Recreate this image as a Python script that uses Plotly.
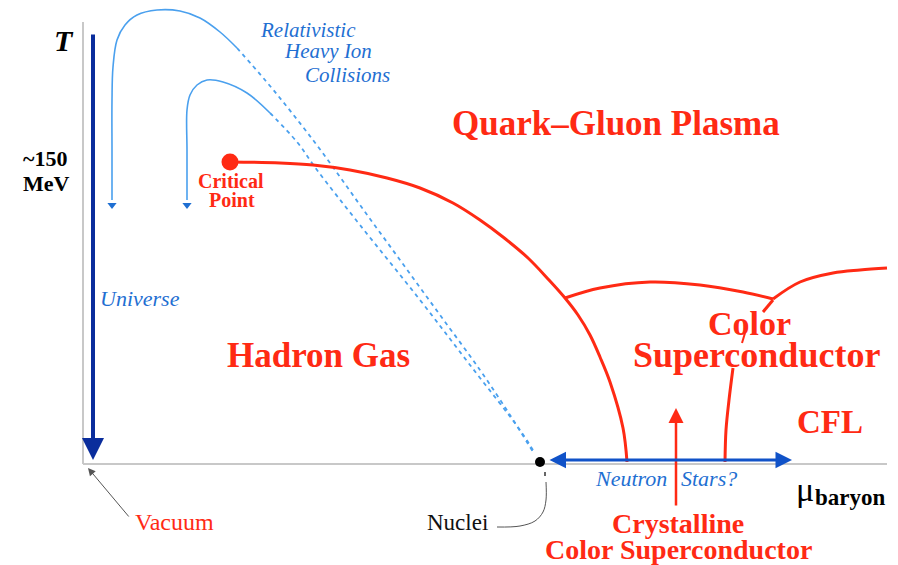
import plotly.graph_objects as go

# ---- data (arbitrary units: mu = baryon chemical potential, T = temperature) ----
axis_mu = [0, 804]
axis_T = [442, 0]

crit_mu = [147]
crit_T = [302]

# first-order transition line from the critical point
trans_mu = [147, 197, 230, 267, 304, 337, 370, 397, 420, 445, 466, 482, 495, 507, 517, 527, 540, 544]
trans_T = [302, 301, 299, 294, 286, 276, 261, 244, 227, 206, 184, 166, 149, 129, 107, 82, 36, 2]

# colour-superconductor boundaries
cs_arc_mu = [482, 517, 567, 617, 660, 690]
cs_arc_T = [166, 176, 182, 179, 172, 165]
cfl_arc_mu = [690, 717, 750, 777, 804]
cfl_arc_T = [165, 182, 191, 194, 196]
cfl_up_mu = [690, 680]
cfl_up_T = [164, 152]
cfl_mid_mu = [662, 659]
cfl_mid_T = [131, 121]
cfl_low_mu = [650, 646, 643, 642]
cfl_low_T = [96, 64, 34, 2]

# heavy-ion collision trajectories
hic1_mu = [29, 29, 29, 30, 34, 42, 54, 74, 97, 117, 137, 154]
hic1_T = [264, 314, 364, 397, 424, 439, 449, 454, 453, 446, 432, 416]
hic1_dash_mu = [154, 182, 209, 239, 277, 317, 357, 397, 427, 450]
hic1_dash_T = [416, 384, 351, 312, 259, 204, 149, 94, 49, 12]
hic2_mu = [104, 104, 104, 107, 114, 124, 140, 164, 187]
hic2_T = [264, 314, 354, 369, 379, 384, 382, 371, 351]
hic2_dash_mu = [187, 214, 234, 277, 337, 387, 437, 450]
hic2_dash_T = [351, 322, 294, 239, 164, 99, 34, 14]
hic_tip_mu = [29, 104]
hic_tip_T = [259, 259]

nuclei_mu = [457]
nuclei_T = [2]
nuc_tick_mu = [462, 462]
nuc_tick_T = [-8, -12]
nuc_curve_mu = [463, 463, 460, 452, 437, 414]
nuc_curve_T = [-18, -36, -48, -57, -62, -63]

RED = "#ff2a14"
LBLUE = "#4aa0ee"
TBLUE = "#1f6fd2"
DBLUE = "#0a2d9c"
MBLUE = "#1052c8"
SERIF = "Liberation Serif, Times New Roman, serif"

fig = go.Figure()

def line(x, y, color, width, dash=None):
    fig.add_trace(go.Scatter(x=x, y=y, mode="lines", line_shape="spline",
                             line=dict(color=color, width=width, dash=dash),
                             hoverinfo="skip"))

# axes
line([0, 0], axis_T, "#c8c8c8", 2)
line(axis_mu, [0, 0], "#c8c8c8", 2)

# trajectories
line(hic1_mu, hic1_T, LBLUE, 1.6)
line(hic2_mu, hic2_T, LBLUE, 1.6)
line(hic1_dash_mu, hic1_dash_T, LBLUE, 1.8, "4px,4px")
line(hic2_dash_mu, hic2_dash_T, LBLUE, 1.8, "4px,4px")
fig.add_trace(go.Scatter(x=hic_tip_mu, y=hic_tip_T, mode="markers",
                         marker=dict(symbol="triangle-down", size=8, color="#1f6fd2"),
                         hoverinfo="skip"))

# phase boundaries
line(trans_mu, trans_T, RED, 3)
line(cs_arc_mu, cs_arc_T, RED, 3)
line(cfl_arc_mu, cfl_arc_T, RED, 3)
line(cfl_up_mu, cfl_up_T, RED, 3)
line(cfl_mid_mu, cfl_mid_T, RED, 2)
line(cfl_low_mu, cfl_low_T, RED, 3)
fig.add_trace(go.Scatter(x=crit_mu, y=crit_T, mode="markers",
                         marker=dict(size=17, color=RED), hoverinfo="skip"))

# nuclei
line(nuc_tick_mu, nuc_tick_T, "#333333", 1.5)
line(nuc_curve_mu, nuc_curve_T, "#555555", 1)
fig.add_trace(go.Scatter(x=nuclei_mu, y=nuclei_T, mode="markers",
                         marker=dict(size=10, color="black"), hoverinfo="skip"))

ann = []
def arrow(x, y, ax, ay, color, width, size, head=2, side="end"):
    ann.append(dict(x=x, y=y, ax=ax, ay=ay, xref="x", yref="y", axref="x", ayref="y",
                    text="", showarrow=True, arrowhead=head, arrowsize=size,
                    arrowwidth=width, arrowcolor=color, arrowside=side))

arrow(10, 4, 10, 431, DBLUE, 4, 1.1)              # Universe
arrow(593, 56, 593, -43, RED, 2.5, 1.2)           # Crystalline
arrow(709, 4, 465, 4, MBLUE, 3, 1.1, side="end+start")  # Neutron stars
arrow(5, -4, 47, -54, "#555555", 1, 1.5)         # Vacuum pointer

def text(x, y, s, size, color, xanchor="center"):
    ann.append(dict(x=x, y=y, xref="x", yref="y", text=s, showarrow=False,
                    xanchor=xanchor, yanchor="middle",
                    font=dict(family=SERIF, size=size, color=color)))

text(-19, 424, "<b><i>T</i></b>", 30, "black")
text(-38, 306, "<b>~150</b>", 22, "black")
text(-37, 281, "<b>MeV</b>", 22, "black")
text(175, 434, "<i>Relativistic</i>", 21, TBLUE, "left")
text(199, 413, "<i>Heavy Ion</i>", 21, TBLUE, "left")
text(220, 389, "<i>Collisions</i>", 21, TBLUE, "left")
text(148, 283, "<b>Critical</b>", 20, RED)
text(149, 264, "<b>Point</b>", 20, RED)
text(15, 166, "<i>Universe</i>", 22, TBLUE, "left")
text(235, 109, "<b>Hadron Gas</b>", 35, RED)
text(533, 341, "<b>Quark–Gluon Plasma</b>", 35, RED)
text(666, 141, "<b>Color</b>", 34, RED)
text(673, 109, "<b>Superconductor</b>", 36, RED)
text(747, 42, "<b>CFL</b>", 33, RED)
text(548, -14, "<i>Neutron</i>", 22, TBLUE)
text(626, -14, "<i>Stars?</i>", 22, TBLUE)
text(595, -59, "<b>Crystalline</b>", 28, RED)
text(595, -85, "<b>Color Superconductor</b>", 28, RED)
text(407, -58, "Nuclei", 23, "#111111", "right")
text(50, -58, "Vacuum", 24, RED, "left")
text(722, -25, "μ", 34, "black")
text(730, -33, "<b>baryon</b>", 23, "black", "left")

fig.update_layout(
    width=898, height=565,
    margin=dict(l=0, r=0, t=0, b=0),
    paper_bgcolor="white", plot_bgcolor="white",
    showlegend=False, hovermode=False,
    xaxis=dict(range=[-83, 815], visible=False, fixedrange=True),
    yaxis=dict(range=[-101, 464], visible=False, fixedrange=True),
    annotations=ann,
)

fig.write_html("out.html", config={"displayModeBar": False},
               post_script="document.body.style.margin='0';document.body.style.overflow='hidden';")
